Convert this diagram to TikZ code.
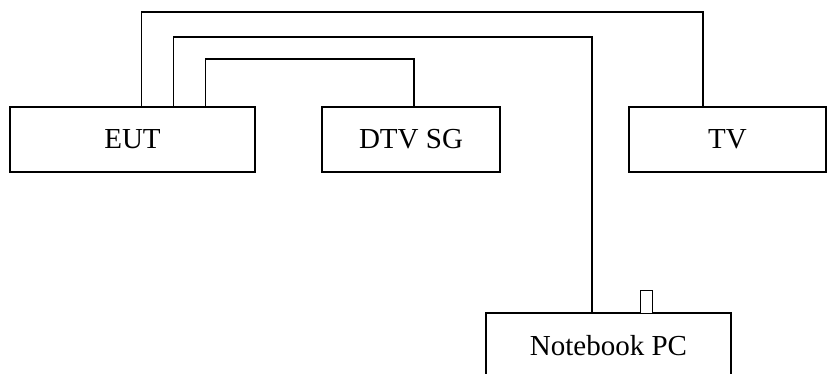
\documentclass[tikz,border=0pt]{standalone}
\usepackage{fontspec}
\setmainfont{Liberation Serif}
\begin{document}
\begin{tikzpicture}[x=1pt,y=-1pt,
  box/.style={draw,line width=1.5pt,inner sep=0pt,font=\fontsize{29}{32}\selectfont,minimum height=65pt},
  wire/.style={line width=1.5pt},
  port/.style={draw,line width=0.6pt,fill=white,inner sep=0pt,minimum width=12pt,minimum height=23pt}]
\useasboundingbox (0,0) rectangle (827,374);
\clip (0,0) rectangle (827,374);
\node[box,minimum width=245pt] (eut) at (132.5,139.5) {EUT};
\node[box,minimum width=178pt] (dtv) at (411,139.5) {DTV SG};
\node[box,minimum width=197pt] (tv) at (727.5,139.5) {TV};
\node[box,minimum width=245pt,minimum height=66pt] (nb) at (608.5,346) {Notebook PC};
\node[port] (port) at (646,301.5) {};
\draw[wire] ([xshift=132pt]eut.north west) |- ([xshift=-24.5pt]tv.north |- 0,12) -- ([xshift=-24.5pt]tv.north);
\draw[wire] ([xshift=164pt]eut.north west) |- ([xshift=-16.5pt]nb.north |- 0,37) -- ([xshift=-16.5pt]nb.north);
\draw[wire] ([xshift=196pt]eut.north west) |- ([xshift=3pt]dtv.north |- 0,59) -- ([xshift=3pt]dtv.north);
\end{tikzpicture}
\end{document}
